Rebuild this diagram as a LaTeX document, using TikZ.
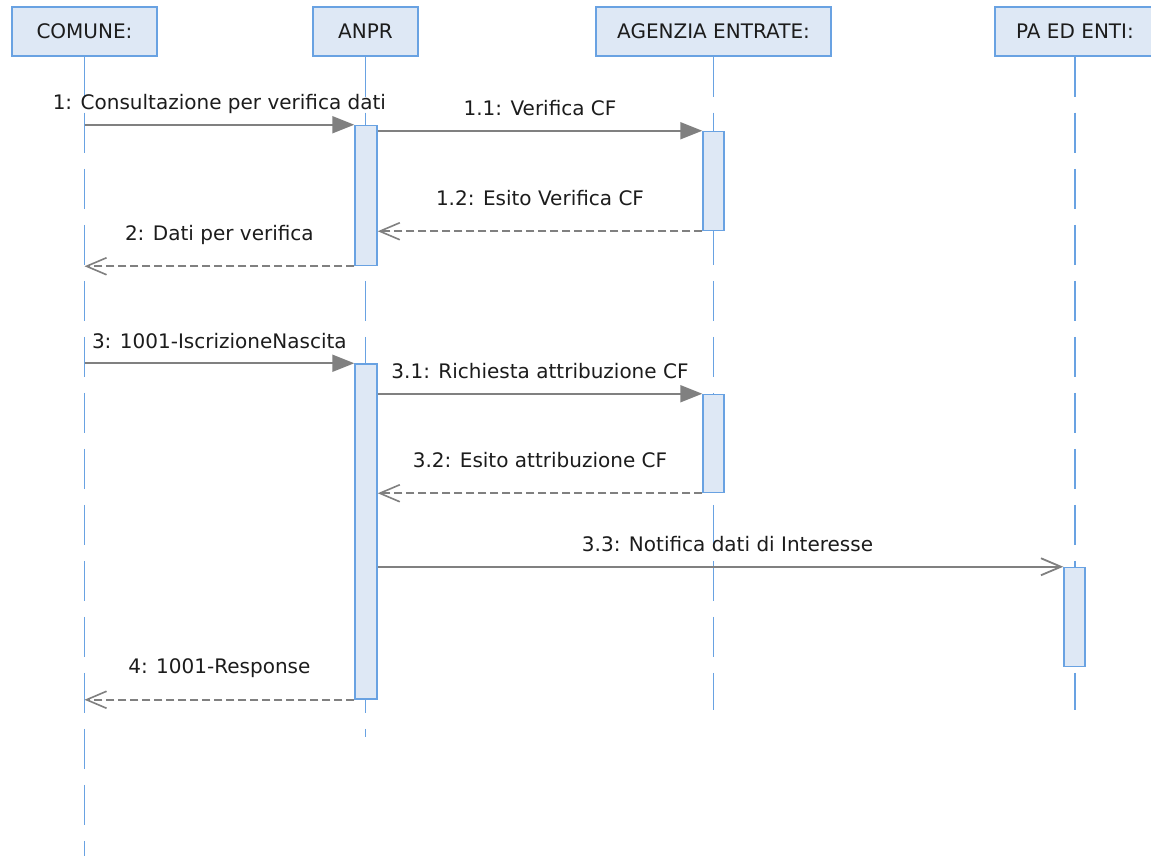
\documentclass[tikz,border=0pt]{standalone}
\usepackage{fontspec}
\setmainfont{DejaVu Sans}
\usetikzlibrary{arrows.meta}
\definecolor{lifeblue}{RGB}{105,162,226}
\definecolor{boxfill}{RGB}{222,232,245}
\definecolor{msggray}{RGB}{128,128,128}
\definecolor{txtdark}{RGB}{28,28,28}

\tikzset{
  header/.style={draw=lifeblue, fill=boxfill, line width=1.5pt, minimum height=49pt, inner sep=0pt, font=\fontsize{20}{24}\selectfont, text=txtdark},
  lifeline/.style={lifeblue, line width=1.5pt, dash pattern=on 40pt off 16pt},
  actbar/.style={draw=lifeblue, fill=boxfill, line width=1.5pt, minimum width=22pt, inner sep=0pt},
  call/.style={msggray, line width=2pt, -{Triangle[length=22pt,width=17pt]}},
  reply/.style={msggray, line width=1.6pt, dash pattern=on 8pt off 4pt, -{Straight Barb[length=20pt,width=17pt,line width=1.6pt]}},
  async/.style={msggray, line width=2pt, -{Straight Barb[length=20pt,width=17pt,line width=1.8pt]}},
  msg/.style={font=\fontsize{20}{24}\selectfont, text=txtdark, inner sep=0pt, text height=15pt, text depth=5pt},
  calllabel/.style={msg, above=9pt},
  replylabel/.style={msg, above=20pt}
}

\begin{document}
\begin{tikzpicture}[x=1pt,y=-1pt]
\useasboundingbox (0,0) rectangle (1151,856);
\fill[white] (0,0) rectangle (1151,856);
\clip (0,0) rectangle (1151,856);

% lifelines
\node[header, minimum width=145pt] (comune) at (84.5,31.5) {COMUNE:};
\node[header, minimum width=105pt] (anpr) at (365.5,31.5) {ANPR};
\node[header, minimum width=235pt] (agenzia) at (713.5,31.5) {AGENZIA ENTRATE:};
\node[header, minimum width=160pt] (paenti) at (1075,31.5) {PA ED ENTI:};

\coordinate (comuneEnd) at (84.5,856);
\coordinate (anprEnd) at (365.5,737);
\coordinate (agenziaEnd) at (713.5,710);
\coordinate (paentiEnd) at (1075,710);

\draw[lifeline] (comune.south) -- (comuneEnd);
\draw[lifeline] (anpr.south) -- (anprEnd);
\draw[lifeline] (agenzia.south) -- (agenziaEnd);
\draw[lifeline] (paenti.south) -- (paentiEnd);

% activations
\node[actbar, minimum height=140pt] (anprA) at (366,195.5) {};
\node[actbar, minimum height=99pt, minimum width=21pt] (agenziaA) at (713.5,181) {};
\node[actbar, minimum height=335pt] (anprB) at (366,531.5) {};
\node[actbar, minimum height=98pt, minimum width=21pt] (agenziaB) at (713.5,443.5) {};
\node[actbar, minimum height=99pt, minimum width=21pt] (paA) at (1074.5,617) {};

% messages
\draw[call] (comune.south |- anprA.north) -- node[calllabel] {1: Consultazione per verifica dati} (anprA.north west);
\draw[call] (anprA.east |- agenziaA.north) -- node[calllabel] {1.1: Verifica CF} (agenziaA.north west);
\draw[reply] (agenziaA.south west) -- node[replylabel] {1.2: Esito Verifica CF} (anprA.east |- agenziaA.south);
\draw[reply] (anprA.south west) -- node[replylabel] {2: Dati per verifica} (comune.south |- anprA.south);

\draw[call] (comune.south |- anprB.north) -- node[calllabel] {3: 1001-IscrizioneNascita} (anprB.north west);
\draw[call] (anprB.east |- agenziaB.north) -- node[calllabel] {3.1: Richiesta attribuzione CF} (agenziaB.north west);
\draw[reply] (agenziaB.south west) -- node[replylabel] {3.2: Esito attribuzione CF} (anprB.east |- agenziaB.south);
\draw[async] (anprB.east |- paA.north) -- node[calllabel, xshift=7pt] {3.3: Notifica dati di Interesse} (paA.north west);
\draw[reply] (anprB.south west) -- node[replylabel] {4: 1001-Response} (comune.south |- anprB.south);
\end{tikzpicture}
\end{document}
